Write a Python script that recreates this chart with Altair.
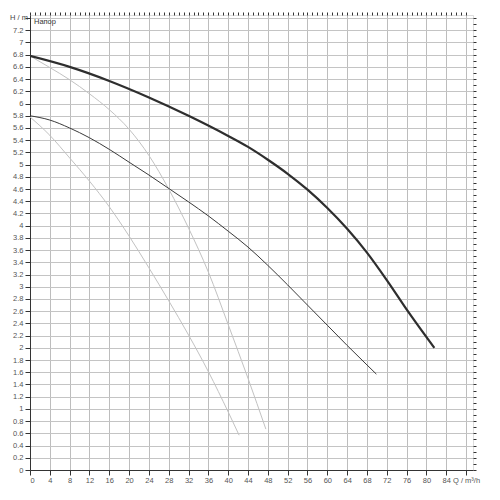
import altair as alt
import pandas as pd

# Curves (Q in m3/h, H in m)
thick_q = [0, 8, 16, 24, 32, 40, 44, 48, 52, 56, 60, 64, 68, 72, 76, 81.6]
thick_h = [6.78, 6.60, 6.37, 6.10, 5.80, 5.47, 5.29, 5.08, 4.85, 4.59, 4.29, 3.95, 3.56, 3.11, 2.63, 2.0]

mid_q = [0, 4, 8, 12, 16, 20, 24, 28, 32, 36, 40, 44, 48, 52, 56, 60, 64, 68, 69.9]
mid_h = [5.80, 5.73, 5.60, 5.44, 5.25, 5.04, 4.83, 4.61, 4.39, 4.16, 3.91, 3.65, 3.35, 3.03, 2.70, 2.37, 2.04, 1.72, 1.57]

light1_q = [0, 4, 8, 12, 16, 20, 24, 28, 32, 36, 40, 44, 47.6]
light1_h = [6.78, 6.59, 6.39, 6.16, 5.90, 5.58, 5.15, 4.60, 3.96, 3.24, 2.38, 1.50, 0.67]

light2_q = [0, 4, 8, 12, 16, 20, 24, 28, 32, 36, 40, 42.2]
light2_h = [5.78, 5.48, 5.11, 4.73, 4.31, 3.83, 3.31, 2.77, 2.21, 1.61, 0.95, 0.57]

x_major = list(range(0, 89, 4))
y_major = [round(i * 0.2, 1) for i in range(0, 38)]
x_minor = list(range(0, 89, 1))
y_minor = [round(i * 0.1, 1) for i in range(0, 75)]

rows = []
for name, qs, hs in [("thick", thick_q, thick_h), ("mid", mid_q, mid_h),
                     ("light1", light1_q, light1_h), ("light2", light2_q, light2_h)]:
    for i, (q, h) in enumerate(zip(qs, hs)):
        rows.append({"curve": name, "Q": q, "H": h, "o": i})
df = pd.DataFrame(rows)

XMAX = 89.4
YMAX = 7.45
xs = alt.Scale(domain=[0, XMAX], nice=False, zero=False)
ys = alt.Scale(domain=[0, YMAX], nice=False, zero=False)

lab_font = "Liberation Sans"

x_axis = alt.Axis(values=x_major, grid=True, gridColor="#bdbdbd", gridWidth=1,
                  labelExpr="datum.value == 88 ? 'Q / m³/h' : datum.label",
                  labelFontSize=7.5, labelColor="#555", labelFont=lab_font,
                  tickColor="#333", tickSize=5, domainColor="#333", title=None,
                  labelPadding=1, labelOverlap=False, format="d")
y_axis = alt.Axis(values=y_major, grid=True, gridColor="#c4c4c4", gridWidth=1,
                  labelExpr="datum.value == 7.4 ? '' : datum.label",
                  labelFontSize=7.5, labelColor="#555", labelFont=lab_font,
                  tickColor="#333", tickSize=5, domainColor="#333", title=None,
                  labelPadding=2, labelOverlap=False, format="~g")

def curve(name, color, width):
    return alt.Chart(df).transform_filter(alt.datum.curve == name).mark_line(
        color=color, strokeWidth=width, interpolate="monotone", clip=True
    ).encode(
        x=alt.X("Q:Q", scale=xs, axis=None),
        y=alt.Y("H:Q", scale=ys, axis=None),
        order="o:Q",
    )

base_axes = alt.Chart(pd.DataFrame({"Q": [0], "H": [0]})).mark_point(opacity=0).encode(
    x=alt.X("Q:Q", scale=xs, axis=x_axis),
    y=alt.Y("H:Q", scale=ys, axis=y_axis),
)

minor_axes = alt.Chart(pd.DataFrame({"Q": [0], "H": [0]})).mark_point(opacity=0).encode(
    x=alt.X("Q:Q", scale=xs, axis=alt.Axis(values=x_minor, grid=False, labels=False,
                                             tickSize=3, tickColor="#333", domain=False, title=None)),
    y=alt.Y("H:Q", scale=ys, axis=alt.Axis(values=y_minor, grid=False, labels=False,
                                             tickSize=3, tickColor="#333", domain=False, title=None)),
)

label = alt.Chart(pd.DataFrame({"t": ["Напор"], "Q": [0.8], "H": [7.34]})).mark_text(
    align="left", baseline="middle", fontSize=7.5, color="#333", font=lab_font
).encode(
    x=alt.X("Q:Q", scale=xs, axis=None),
    y=alt.Y("H:Q", scale=ys, axis=None),
    text="t:N",
)

ylabel = alt.Chart(pd.DataFrame({"t": ["H / m"], "H": [7.4]})).mark_text(
    align="right", baseline="middle", fontSize=7.5, color="#444", font=lab_font
).encode(
    x=alt.value(-2),
    y=alt.Y("H:Q", scale=ys, axis=None),
    text="t:N",
)

chart = alt.layer(
    base_axes,
    minor_axes,
    curve("light1", "#c2c2c2", 1),
    curve("light2", "#c2c2c2", 1),
    curve("mid", "#3a3a3a", 1),
    curve("thick", "#2e2e2e", 2.2),
    label,
    ylabel,
).resolve_axis(x="independent", y="independent").properties(
    width=443, height=455,
    autosize=alt.AutoSizeParams(type="none"),
    padding={"left": 22, "top": 7, "right": 10, "bottom": 20},
).configure_view(stroke="#444", strokeWidth=1.2).configure(background="white")

chart.save("out.html", embed_options={"renderer": "svg", "actions": False})
